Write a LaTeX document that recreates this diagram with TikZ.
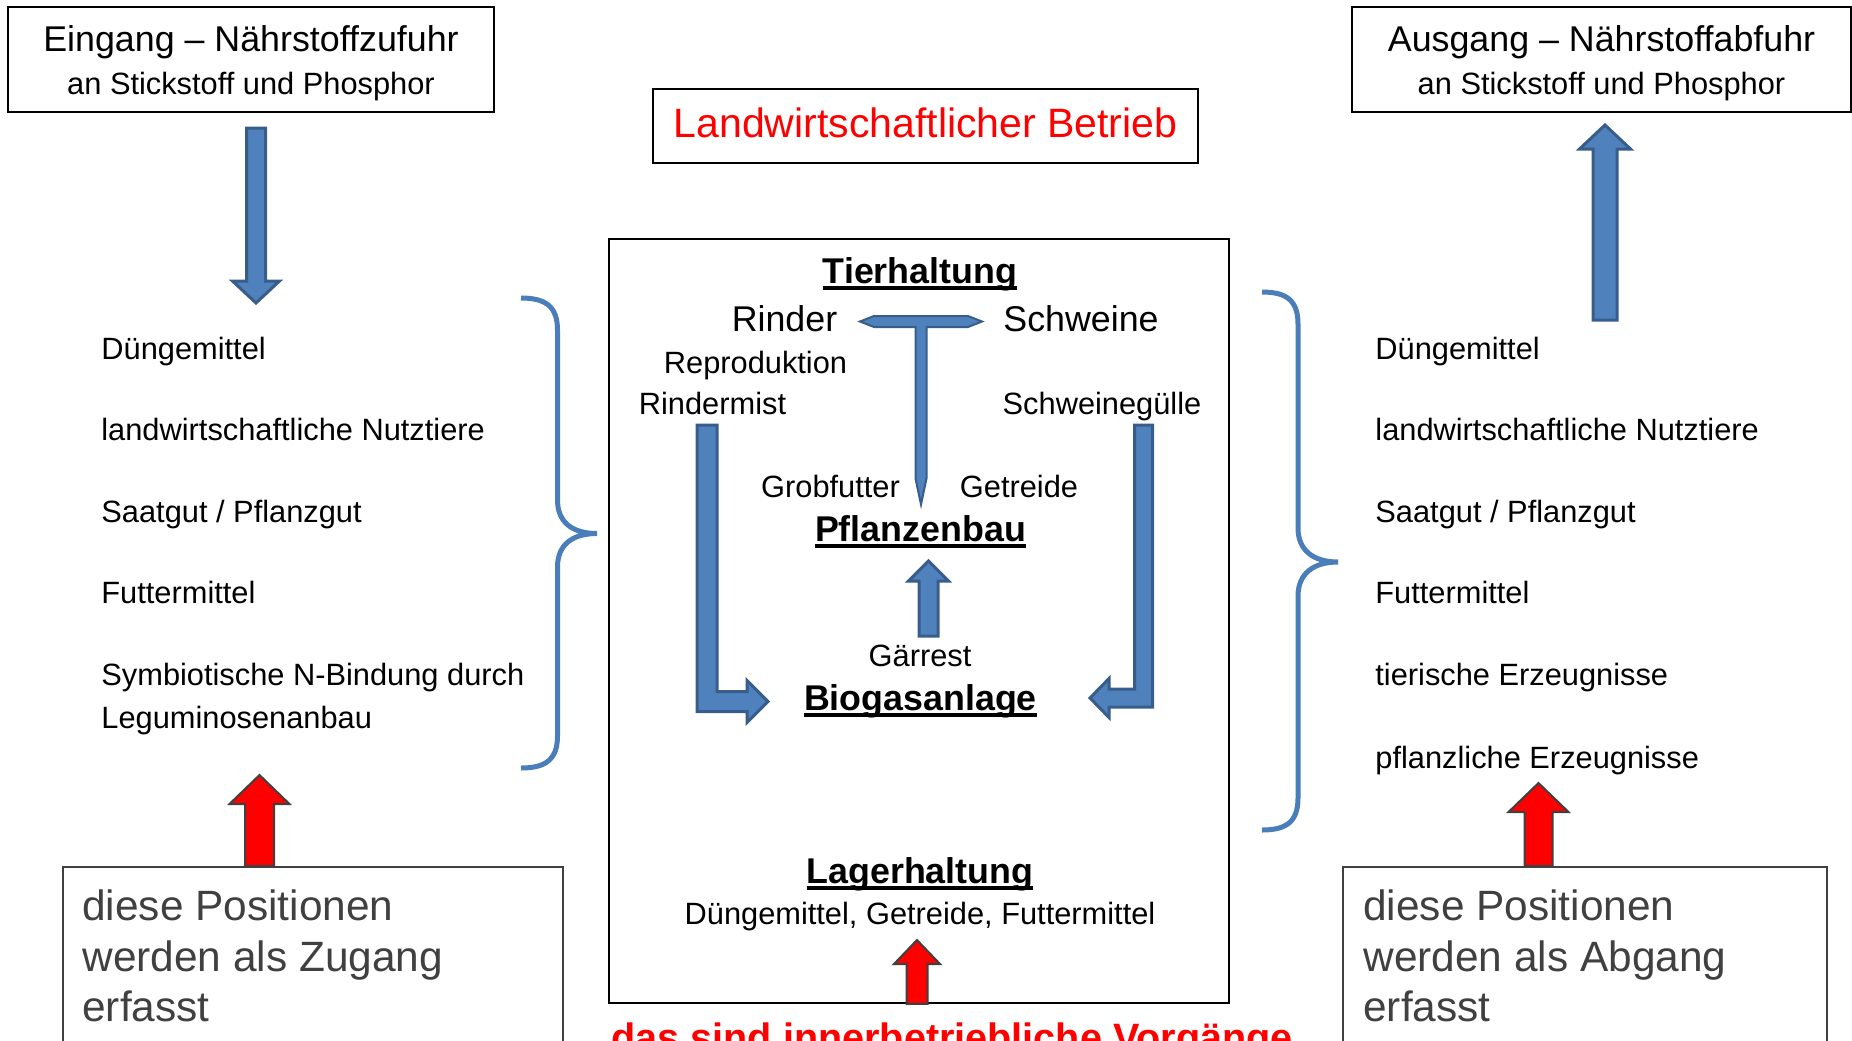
\documentclass[tikz,border=0pt]{standalone}
\usepackage{fontspec}
\setmainfont{Liberation Sans}
\usetikzlibrary{calc,positioning}

\definecolor{blueFill}{HTML}{4F81BD}
\definecolor{blueLine}{HTML}{385D8A}
\definecolor{braceBlue}{HTML}{4A7EBB}
\definecolor{darkGray}{HTML}{404040}

\newcommand{\uhead}[1]{\setbox0\hbox{#1}\rlap{\rule[-3.3pt]{\wd0}{1.7pt}}\box0}

\tikzset{
  hdrbox/.style={draw, line width=0.8pt, inner sep=0pt, align=center, font=\fontsize{15.4}{21.5}\selectfont},
  listtxt/.style={inner sep=0pt, anchor=base west, font=\fontsize{15.4}{21.5}\selectfont},
  ctrtxt/.style={inner sep=0pt, anchor=base, font=\fontsize{15.4}{18}\selectfont},
  bigtxt/.style={inner sep=0pt, anchor=base, font=\fontsize{17.9}{21}\selectfont},
  headtxt/.style={inner sep=0pt, anchor=base, font=\bfseries\fontsize{17.9}{21}\selectfont},
  notebox/.style={draw=darkGray, line width=1pt, inner sep=0pt, anchor=north west},
  notetxt/.style={inner sep=0pt, align=left, text=darkGray, font=\fontsize{21.2}{25.25}\selectfont},
  blueblock/.style={fill=blueFill, draw=blueLine, line width=1.5pt},
  redblock/.style={fill=red, draw=darkGray, line width=1pt},
  bracket/.style={draw=braceBlue, line width=2.5pt}
}

\newcommand{\vblock}[6]{%
  \coordinate (hb) at ($(#3)!#6!(#2)$);
  \draw[#1] ($(#2)+(-#4,0)$) -- ($(hb)+(-#4,0)$) -- ($(hb)+(-#5,0)$) -- (#3)
    -- ($(hb)+(#5,0)$) -- ($(hb)+(#4,0)$) -- ($(#2)+(#4,0)$) -- cycle;}

\begin{document}
\begin{tikzpicture}[x=0.5pt,y=-0.5pt]
  \useasboundingbox (0,0) rectangle (1852,1040);
  \clip (0,0) rectangle (1852,1040);

  \node (eingang) at (251,59.5) [hdrbox, minimum width=243pt, minimum height=52.5pt]{\rule{0pt}{17pt}{\fontsize{17.9}{21.5}\selectfont Eingang – Nährstoffzufuhr}\\an Stickstoff und Phosphor};
  \node (ausgang) at (1601.5,59.5) [hdrbox, minimum width=249.5pt, minimum height=52.5pt]{\rule{0pt}{17pt}{\fontsize{17.9}{21.5}\selectfont Ausgang – Nährstoffabfuhr}\\an Stickstoff und Phosphor};
  \node (betrieb) at (925.5,126) [hdrbox, minimum width=272.5pt, minimum height=37pt, text=red, font=\fontsize{20.5}{24}\selectfont, text height=15pt, text depth=4pt]{Landwirtschaftlicher Betrieb};

  \node (hof) at (919,621) [draw, line width=0.8pt, minimum width=310pt, minimum height=382pt]{};

  \node (inDuenger) at (101,359) [listtxt]{Düngemittel};
  \node (inTiere) at (101,440) [listtxt]{landwirtschaftliche Nutztiere};
  \node (inSaat) at (101,522) [listtxt]{Saatgut / Pflanzgut};
  \node (inFutter) at (101,603) [listtxt]{Futtermittel};
  \node (inLegum) at (101,663) [listtxt, anchor=north west, align=left]{Symbiotische N-Bindung durch\\Leguminosenanbau};

  \node (outDuenger) at (1375,359) [listtxt]{Düngemittel};
  \node (outTiere) at (1375,440) [listtxt]{landwirtschaftliche Nutztiere};
  \node (outSaat) at (1375,522) [listtxt]{Saatgut / Pflanzgut};
  \node (outFutter) at (1375,603) [listtxt]{Futtermittel};
  \node (outTier) at (1375,685) [listtxt]{tierische Erzeugnisse};
  \node (outPflanz) at (1375,768) [listtxt]{pflanzliche Erzeugnisse};

  \draw[bracket] (521,298) .. controls (545,298) and (557.5,306) .. (557.5,330) -- (557.5,500)
    .. controls (557.5,522) and (572,533.5) .. (597,533.5)
    .. controls (572,533.5) and (557.5,545) .. (557.5,567) -- (557.5,736)
    .. controls (557.5,760) and (545,768) .. (521,768);
  \draw[bracket] (1262,292) .. controls (1286,292) and (1298,300) .. (1298,324) -- (1298,528)
    .. controls (1298,550) and (1313,562) .. (1338,562)
    .. controls (1313,562) and (1298,574) .. (1298,596) -- (1298,798)
    .. controls (1298,822) and (1286,830) .. (1262,830);

  \node (tierhaltung) at (920,283) [headtxt]{\uhead{Tierhaltung}};
  \node (rinder) at (784.5,331) [bigtxt]{Rinder};
  \node (schweine) at (1081,331) [bigtxt]{Schweine};
  \node (repro) at (755.5,373) [ctrtxt]{Reproduktion};
  \node (mist) at (712.5,414) [ctrtxt]{Rindermist};
  \node (guelle) at (1102,414) [ctrtxt]{Schweinegülle};
  \node (grobfutter) at (830.5,497) [ctrtxt]{Grobfutter};
  \node (getreide) at (1019,497) [ctrtxt]{Getreide};
  \node (pflanzenbau) at (920.5,541) [headtxt]{\uhead{Pflanzenbau}};
  \node (gaerrest) at (920,666) [ctrtxt]{Gärrest};
  \node (biogas) at (920.5,710) [headtxt]{\uhead{Biogasanlage}};
  \node (lager) at (920,883) [headtxt]{\uhead{Lagerhaltung}};
  \node (lagergut) at (920,924) [ctrtxt]{Düngemittel, Getreide, Futtermittel};

  \coordinate (tCenter) at (921,321.5);
  \draw[blueblock, line width=1pt, shift={(tCenter)}] (-61,0) -- (-47,-5.5) -- (47,-5.5) -- (61,0)
    -- (47,5.5) -- (5.5,5.5) -- (5.5,157) -- (0,183) -- (-5.5,157) -- (-5.5,5.5) -- (-47,5.5) -- cycle;

  \coordinate (mistTop) at (707,425);
  \coordinate (mistTip) at (768,701.5);
  \draw[blueblock] ($(mistTop)+(-10,0)$) -- ($(mistTop |- mistTip)+(-10,10)$) -- ($(mistTip)+(-21,10)$)
    -- ($(mistTip)+(-21,21)$) -- (mistTip) -- ($(mistTip)+(-21,-21)$) -- ($(mistTip)+(-21,-10)$)
    -- ($(mistTop |- mistTip)+(10,-10)$) -- ($(mistTop)+(10,0)$) -- cycle;

  \coordinate (guelleTop) at (1143.5,425);
  \coordinate (guelleTip) at (1090,698);
  \draw[blueblock] ($(guelleTop)+(9,0)$) -- ($(guelleTop |- guelleTip)+(9,9)$) -- ($(guelleTip)+(19,9)$)
    -- ($(guelleTip)+(19,19.5)$) -- (guelleTip) -- ($(guelleTip)+(19,-19.5)$) -- ($(guelleTip)+(19,-9)$)
    -- ($(guelleTop |- guelleTip)+(-9,-9)$) -- ($(guelleTop)+(-9,0)$) -- cycle;

  \coordinate (gaerTail) at (928.5,636);
  \coordinate (gaerTip) at (928.5,561);
  \vblock{blueblock}{gaerTail}{gaerTip}{9.5}{20}{10pt}

  \coordinate (inTail) at (256,128);
  \coordinate (inTip) at (256,303);
  \vblock{blueblock}{inTail}{inTip}{9.5}{23.5}{11pt}

  \coordinate (outTail) at (1605,320);
  \coordinate (outTip) at (1605,125);
  \vblock{blueblock}{outTail}{outTip}{12}{25.5}{12pt}

  \node (zugang) at (62,866) [notebox, minimum width=250pt, minimum height=110pt]{};
  \node (zugangText) [notetxt, below right=11.8pt and 10pt of zugang.north west]{diese Positionen\\werden als Zugang\\erfasst};
  \node (abgang) at (1342,866) [notebox, minimum width=242pt, minimum height=110pt]{};
  \node (abgangText) [notetxt, below right=11.8pt and 10.5pt of abgang.north west]{diese Positionen\\werden als Abgang\\erfasst};

  \coordinate (zugangTip) at (259.5,775);
  \vblock{redblock}{zugang.north -| zugangTip}{zugangTip}{14.5}{30}{14.5pt}
  \coordinate (abgangTip) at (1538.5,783);
  \vblock{redblock}{abgang.north -| abgangTip}{abgangTip}{14}{30}{14.5pt}
  \coordinate (lagerTip) at (917,940);
  \vblock{redblock}{hof.south -| lagerTip}{lagerTip}{10.5}{23}{12pt}

  \node (intern) at (611,1051) [anchor=base west, inner sep=0pt, text=red, font=\bfseries\fontsize{19.8}{24}\selectfont]{das sind innerbetriebliche Vorgänge};
\end{tikzpicture}
\end{document}
